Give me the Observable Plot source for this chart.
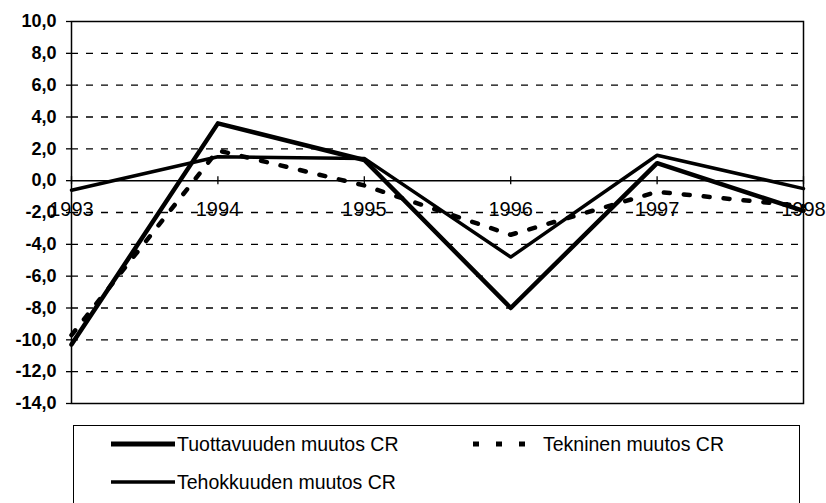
<!DOCTYPE html>
<html><head><meta charset="utf-8">
<script src="https://cdn.jsdelivr.net/npm/d3@7"></script>
<script src="https://cdn.jsdelivr.net/npm/@observablehq/plot@0.6"></script>
<style>
body{margin:0;background:#fff;font-family:"Liberation Sans",Arial,sans-serif;}
#wrap{position:relative;width:826px;height:503px;overflow:hidden;}
#legend{position:absolute;left:73px;top:425px;width:727px;height:100px;border:1.5px solid #000;border-bottom:none;box-sizing:border-box;}
.item{position:absolute;display:flex;align-items:center;font-size:19.5px;color:#000;height:24px;}
.item svg{display:block;}
</style></head><body>
<div id="wrap"><div id="chart"></div><div id="legend"></div></div>
<script>
const years = [1993, 1994, 1995, 1996, 1997, 1998];
const tuottavuus = [-10.3, 3.6, 1.3, -8.0, 1.1, -1.9];
const tehokkuus = [-0.6, 1.5, 1.4, -4.8, 1.6, -0.5];
const tekninen = [-9.7, 1.9, -0.3, -3.4, -0.7, -1.6];
const yTicks = [10, 8, 6, 4, 2, 0, -2, -4, -6, -8, -10, -12, -14];
const gridTicks = [8, 6, 4, 2, -2, -4, -6, -8, -10, -12];
const names = ["Tuottavuuden muutos CR", "Tehokkuuden muutos CR", "Tekninen muutos CR"];

const rows = (vals) => years.map((y, i) => ({year: y, value: vals[i]}));
const fmt = d => d.toFixed(1).replace(".", ",");

const chart = Plot.plot({
  width: 826,
  height: 420,
  marginLeft: 71,
  marginRight: 23,
  marginTop: 21,
  marginBottom: 17,
  style: {fontFamily: "'Liberation Sans', Arial, sans-serif", color: "#000", background: "#fff"},
  x: {type: "linear", domain: [1993, 1998], axis: null},
  y: {domain: [-14, 10], axis: null},
  marks: [
    Plot.ruleY(gridTicks, {stroke: "#000", strokeWidth: 1.3, strokeDasharray: "7,8"}),
    Plot.ruleY([0], {stroke: "#000", strokeWidth: 1.5}),
    Plot.frame({stroke: "#000", strokeWidth: 1.5}),
    Plot.axisY(yTicks, {label: null, tickSize: 5, tickPadding: 10, tickFormat: fmt, fontSize: 18, fontWeight: "bold", letterSpacing: 0.8, stroke: "#000", strokeWidth: 1.3}),
    Plot.ruleX(years, {x: d => d, y1: -0.25, y2: 0.25, stroke: "#000", strokeWidth: 1.3}),
    Plot.text(years, {x: d => d, y: 0, dy: 29, text: d => String(d), fontSize: 20, fill: "#000", textAnchor: "middle", lineAnchor: "middle", letterSpacing: -0.3}),
    Plot.line(rows(tekninen), {x: "year", y: "value", stroke: "#000", strokeWidth: 4.5, strokeDasharray: "6,14"}),
    Plot.line(rows(tehokkuus), {x: "year", y: "value", stroke: "#000", strokeWidth: 3.5}),
    Plot.line(rows(tuottavuus), {x: "year", y: "value", stroke: "#000", strokeWidth: 4.5})
  ]
});
document.getElementById("chart").appendChild(chart);

const legend = document.getElementById("legend");
const items = [
  {name: names[0], left: 37, top: 6, width: 5, dash: null, len: 64, gap: 2},
  {name: names[1], left: 37, top: 44, width: 3.5, dash: null, len: 64, gap: 2},
  {name: names[2], left: 399, top: 6, width: 5, dash: "6,17", len: 52, gap: 18}
];
for (const it of items) {
  const div = document.createElement("div");
  div.className = "item";
  div.style.left = it.left + "px";
  div.style.top = it.top + "px";
  const svg = d3.create("svg").attr("width", it.len).attr("height", 24).style("margin-right", it.gap + "px");
  svg.append("line").attr("x1", 0).attr("x2", it.len).attr("y1", 12).attr("y2", 12)
    .attr("stroke", "#000").attr("stroke-width", it.width)
    .attr("stroke-dasharray", it.dash);
  div.appendChild(svg.node());
  const span = document.createElement("span");
  span.textContent = it.name;
  div.appendChild(span);
  legend.appendChild(div);
}
</script>
</body></html>
